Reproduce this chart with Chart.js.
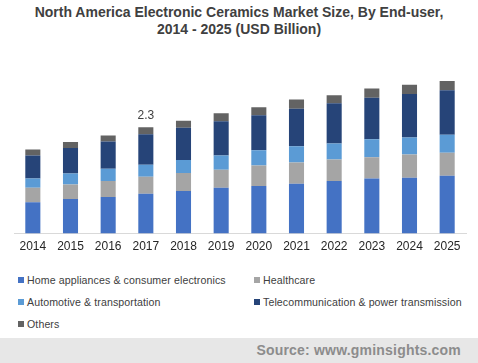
<!DOCTYPE html>
<html>
<head>
<meta charset="utf-8">
<script src="https://cdn.jsdelivr.net/npm/chart.js@4/dist/chart.umd.min.js"></script>
<style>
  html, body { margin:0; padding:0; background:#fff; }
  #wrap { position:relative; width:478px; height:363px; overflow:hidden; font-family:"Liberation Sans", Arial, sans-serif; }
  #title { position:absolute; top:4px; left:0; width:478px; text-align:center; font-weight:bold; font-size:14px; line-height:17px; color:#404040; }
  #chartBox { position:absolute; top:40px; left:0; width:478px; height:220px; }
  #legend { position:absolute; top:273px; left:18px; width:460px; font-size:10.6px; color:#404040; letter-spacing:0.1px; }
  .li { position:absolute; white-space:nowrap; line-height:14px; }
  .sw { display:inline-block; width:6px; height:6px; margin-right:3px; vertical-align:1px; }
  #source { position:absolute; top:338px; left:0; width:478px; height:25px; background:#e7e7e7; }
  #source span { position:absolute; right:17px; top:4px; font-weight:bold; font-size:14px; color:#8c8c8c; letter-spacing:0.2px; }
</style>
</head>
<body>
<div id="wrap">
  <div id="title">North America Electronic Ceramics Market Size, By End-user,<br>2014 - 2025 (USD Billion)</div>
  <div id="chartBox"><canvas id="c"></canvas></div>
  <div id="legend"></div>
  <div id="source"><span>Source: www.gminsights.com</span></div>
</div>
<script>
const categories = ["2014","2015","2016","2017","2018","2019","2020","2021","2022","2023","2024","2025"];
const seriesNames = ["Home appliances & consumer electronics","Healthcare","Automotive & transportation","Telecommunication & power transmission","Others"];
const homeAppliances = [0.68,0.75,0.79,0.86,0.92,0.99,1.03,1.08,1.14,1.19,1.21,1.25];
const healthcare     = [0.31,0.31,0.35,0.37,0.39,0.39,0.44,0.46,0.46,0.46,0.50,0.50];
const automotive     = [0.20,0.24,0.26,0.26,0.28,0.31,0.33,0.35,0.35,0.39,0.37,0.39];
const telecom        = [0.50,0.55,0.59,0.66,0.70,0.74,0.76,0.81,0.87,0.90,0.94,0.96];
const others         = [0.13,0.13,0.13,0.15,0.15,0.17,0.17,0.20,0.17,0.20,0.20,0.20];
const colors = ["#4472c4","#a5a5a5","#5b9bd5","#264478","#636363"];
const annotations = [{index:3, text:"2.3"}];

const seriesData = [homeAppliances, healthcare, automotive, telecom, others];

const labelPlugin = {
  id:'totLabel',
  afterDatasetsDraw(chart){
    const ctx = chart.ctx;
    const top = chart.getDatasetMeta(seriesData.length-1);
    ctx.save();
    ctx.font = '12px "Liberation Sans", Arial, sans-serif';
    ctx.fillStyle = '#404040';
    ctx.textAlign = 'center';
    ctx.textBaseline = 'bottom';
    annotations.forEach(a=>{
      const el = top.data[a.index];
      ctx.fillText(a.text, el.x, el.y - 6);
    });
    ctx.restore();
  }
};

new Chart(document.getElementById('c'), {
  type:'bar',
  data:{
    labels:categories,
    datasets: seriesData.map((d,i)=>({
      label:seriesNames[i], data:d, backgroundColor:colors[i],
      barPercentage:0.4, categoryPercentage:1.0, borderWidth:0
    }))
  },
  options:{
    responsive:true, maintainAspectRatio:false, animation:false,
    layout:{padding:{left:14, right:12, top:10, bottom:0}},
    plugins:{legend:{display:false}, tooltip:{enabled:false}},
    scales:{
      x:{stacked:true, grid:{display:false, drawTicks:false}, border:{display:true, color:'#d9d9d9', width:1},
         ticks:{color:'#262626', font:{size:12, family:'"Liberation Sans", Arial, sans-serif'}, padding:6}},
      y:{stacked:true, display:false, min:0, max:3.97}
    }
  },
  plugins:[labelPlugin]
});

const lg = document.getElementById('legend');
const pos = [[0,0],[236,0],[0,22],[236,22],[0,44]];
seriesNames.forEach((n,i)=>{
  const d = document.createElement('div');
  d.className='li';
  d.style.left = pos[i][0]+'px'; d.style.top = pos[i][1]+'px';
  d.innerHTML = '<span class="sw" style="background:'+colors[i]+'"></span>'+n.replace(/&/g,'&amp;');
  lg.appendChild(d);
});
</script>
</body>
</html>
